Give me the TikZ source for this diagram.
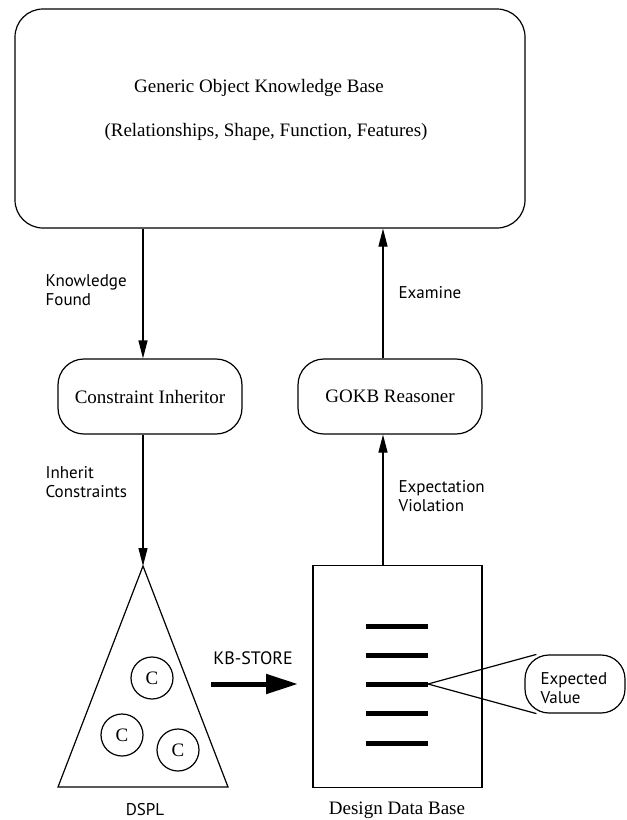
\documentclass[tikz,border=0pt]{standalone}
\usepackage{fontspec}
\setmainfont{Liberation Serif}
\newfontfamily\lblfont{PT Sans}
\usetikzlibrary{arrows.meta,calc}
\begin{document}
\begin{tikzpicture}[x=1pt,y=-1pt,
  line width=1.2pt,
  every node/.style={inner sep=0pt},
  boxfont/.style={font=\fontsize{19}{22}\selectfont},
  roundbox/.style={draw,rounded corners=26pt,minimum width=184pt,minimum height=75pt,boxfont},
  cnode/.style={draw,circle,minimum size=42pt,boxfont},
  flow/.style={-{Triangle[length=18pt,width=9pt]}},
  lbl/.style={anchor=west,align=left,font=\lblfont\fontsize{17}{19}\selectfont},
  caption/.style={font=\lblfont\fontsize{17}{19}\selectfont},
  bar/.style={line width=5pt},
  bigarrow/.style={line width=5pt,-{Triangle[length=32pt,width=19pt]}}
]
\useasboundingbox (0,0) rectangle (627,820);

% column positions of the vertical connectors
\coordinate (lcol) at (143,0);
\coordinate (rcol) at (383,0);

% generic object knowledge base
\node[draw,rounded corners=28pt,minimum width=510pt,minimum height=219pt] (gokb) at (270,118.5) {};
\node[boxfont] (gokbtitle) at (259,88) {Generic Object Knowledge Base};
\node[boxfont] (gokbsub) at (266,132) {(Relationships, Shape, Function, Features)};

% processing modules
\node[roundbox] (ci) at (150,396.5) {Constraint Inheritor};
\node[roundbox] (gr) at (390,396.5) {GOKB Reasoner};

% DSPL hierarchy
\coordinate (apex) at (143,566);
\coordinate (tbl) at (58,787);
\coordinate (tbr) at (228,787);
\draw (apex) -- (tbl) -- (tbr) -- cycle;
\node[cnode] (c1) at (152,678) {C};
\node[cnode] (c2) at (122,735) {C};
\node[cnode] (c3) at (178,750) {C};
\node[caption] (dspl) at (145,810) {DSPL};

% design data base
\node[draw,minimum width=169pt,minimum height=222pt] (ddb) at (397.5,676.5) {};
\foreach \yy [count=\i] in {626,655,684,713,743}
  \draw[bar] (366,\yy) coordinate (bar\i w) -- (428,\yy) coordinate (bar\i e);
\node[boxfont] (ddblabel) at (397,810) {Design Data Base};

% expected value callout
\node[draw,rounded corners=24pt,minimum width=100pt,minimum height=58pt] (ev) at (575,684) {};
\node[lbl] (evtext) at (540,688) {Expected\\Value};
\draw (bar3e) -- ($(ev.north west)+(12,0)$);
\draw (bar3e) -- ($(ev.south west)+(12,0)$);

% KB-STORE transfer
\node[caption,font=\lblfont\fontsize{18}{20}\selectfont] (kbs) at (253,658) {KB-STORE};
\coordinate (kbtail) at (211,684);
\coordinate (kbhead) at (298,684);
\draw[bigarrow] (kbtail) -- (kbhead);

% connectors
\draw[flow] (gokb.south -| lcol) -- (ci.north -| lcol);
\draw[flow] (ci.south -| lcol) -- (apex);
\draw[flow] (ddb.north -| rcol) -- (gr.south -| rcol);
\draw[flow] (gr.north -| rcol) -- (gokb.south -| rcol);

% connector labels
\node[lbl] (kf) at (45,290) {Knowledge\\Found};
\node[lbl] (ex) at (398,293) {Examine};
\node[lbl] (ic) at (45,482) {Inherit\\Constraints};
\node[lbl] (evio) at (398,496) {Expectation\\Violation};
\end{tikzpicture}
\end{document}
